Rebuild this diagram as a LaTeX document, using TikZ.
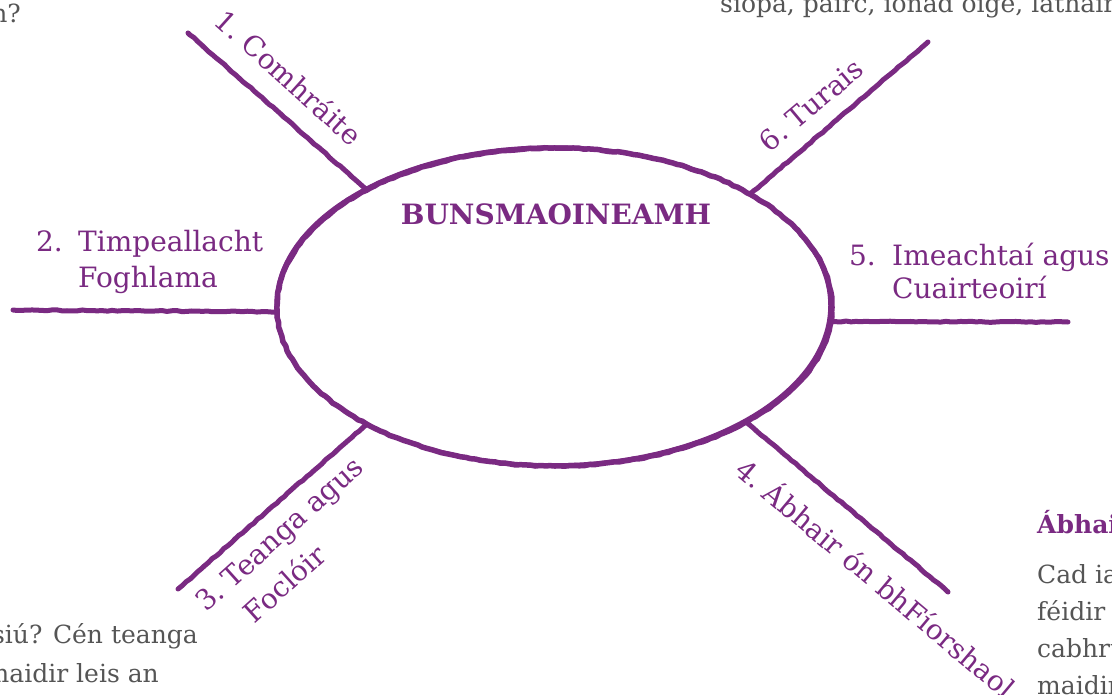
\documentclass[tikz,border=0pt]{standalone}
\usepackage{fontspec}
\setmainfont{DejaVu Serif}
\usetikzlibrary{shapes.geometric,decorations.pathmorphing}
\definecolor{purp}{RGB}{122,42,130}
\definecolor{greytxt}{RGB}{85,85,85}
\begin{document}
\begin{tikzpicture}[x=1pt,y=-1pt,
  lbl/.style={text=purp,font=\fontsize{28}{34}\selectfont,inner sep=0pt},
  gtxt/.style={text=greytxt,font=\fontsize{25}{30}\selectfont,inner sep=0pt},
  btxt/.style={text=purp,font=\bfseries\fontsize{25}{30}\selectfont,inner sep=0pt},
  rough/.style={decorate,decoration={random steps,segment length=5pt,amplitude=0.5pt}},
  spoke/.style={draw=purp,line width=5pt,line cap=round,rough},
  scratch/.style={draw=purp,line width=2.5pt,line cap=round}]
\pgfmathsetseed{7}
\useasboundingbox (0,0) rectangle (1112,694);
\clip (0,0) rectangle (1112,694);
\fill[white] (0,0) rectangle (1112,694);

% central ellipse
\node[ellipse,draw=purp,line width=5.5pt,minimum width=555pt,minimum height=318pt,
      inner sep=0pt,outer sep=0pt,rough] (c) at (554.5,307) {};
\draw[scratch] ([xshift=-2pt,yshift=1.5pt]c.center) ellipse [x radius=277, y radius=159];
\node[text=purp,font=\bfseries\fontsize{28}{34}\selectfont,inner sep=0pt] (t) at (556,214) {BUNSMAOINEAMH};

% spoke ends
\coordinate (e1) at (188,33);
\coordinate (e2) at (13,310);
\coordinate (e3) at (178,589);
\coordinate (e4) at (948,592);
\coordinate (e5) at (1068,322);
\coordinate (e6) at (928,42);

\draw[spoke] (c.148) -- (e1);
\draw[spoke] (c.181) -- (e2);
\draw[spoke] (c.212) -- (e3);
\draw[spoke] (c.329) -- (e4);
\draw[spoke] (c.357) -- (e5);
\draw[spoke] (c.30) -- (e6);

% labels
\node[lbl,rotate=-42] (l1) at (289,77) {1.~Comhráite};
\node[lbl,anchor=base east] (n2) at (63,251) {2.};
\node[lbl,anchor=base west] (l2a) at (78,251) {Timpeallacht};
\node[lbl,anchor=base west] (l2b) at (78,287) {Foghlama};
\node[lbl,rotate=42] (l3a) at (281,536) {3.~Teanga agus};
\node[lbl,rotate=42] (l3b) at (284,583) {Foclóir};
\node[lbl,rotate=-40] (l4) at (877,577) {4.~Ábhair ón bhFíorshaol};
\node[lbl,anchor=base east] (n5) at (876,265) {5.};
\node[lbl,anchor=base west] (l5a) at (892,265) {Imeachtaí agus};
\node[lbl,anchor=base west] (l5b) at (892,298) {Cuairteoirí};
\node[lbl,rotate=40] (l6) at (811,105) {6.~Turais};

% surrounding page text (cropped)
\node[gtxt,anchor=base east] (g1) at (21,22) {ann?};
\node[gtxt,anchor=base west] (g2) at (720,12) {siopa, páirc, ionad óige, láthair};
\node[gtxt,anchor=base east] (g3) at (198,643) {siú? Cén teanga};
\node[gtxt,anchor=base east] (g4) at (159,682) {maidir leis an};
\node[btxt,anchor=base west] (g5) at (1037,533) {Ábhair};
\node[gtxt,anchor=base west] (g6) at (1037,583) {Cad iad};
\node[gtxt,anchor=base west] (g7) at (1037,620) {féidir};
\node[gtxt,anchor=base west] (g8) at (1037,657) {cabhrú};
\node[gtxt,anchor=base west] (g9) at (1037,694) {maidir};
\end{tikzpicture}
\end{document}
